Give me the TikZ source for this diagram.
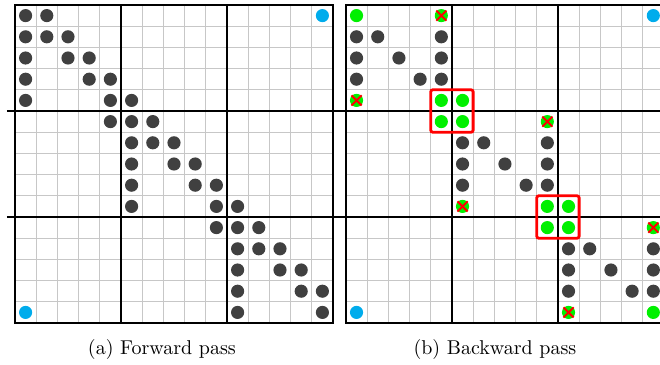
\documentclass[tikz,border=0pt]{standalone}
\usepackage{xcolor}
\usepackage{tikz}
\usetikzlibrary{positioning}

\definecolor{nzgray}{RGB}{64,64,64}
\definecolor{updgreen}{RGB}{0,240,0}
\definecolor{cornerblue}{RGB}{0,172,236}

\begin{document}
\begin{tikzpicture}[x=10.6pt, y=10.6pt,
  gridline/.style={black!22, line width=0.5pt},
  blockline/.style={black, line width=1.3pt},
  nz/.style={fill=nzgray},
  upd/.style={fill=updgreen},
  cornerpt/.style={fill=cornerblue},
  dropx/.style={red, line width=1pt},
  pivot/.style={red, line width=1.4pt, rounded corners=1pt},
  captext/.style={font=\normalsize, inner sep=0pt}
]
\useasboundingbox (-0.7075,0.236) rectangle (30.425,-16.98);

% two 15x15 patterns, 3x3 blocks
\foreach \ox in {0,15.61} {
  \begin{scope}[shift={(\ox,0)}]
    \draw[gridline, step=1] (0,0) grid (15,-15);
    \foreach \k in {5,10} {
      \draw[blockline] (\k,0) -- (\k,-15);
      \draw[blockline] (-0.38,-\k) -- (15.38,-\k);
    }
    \draw[blockline] (0,0) rectangle (15,-15);
    \fill[cornerpt] (14.5,-0.5) circle (0.31);
    \fill[cornerpt] (0.5,-14.5) circle (0.31);
  \end{scope}
}

% (a) forward
\foreach \r/\cols in {0/{0,1},1/{0,1,2},2/{0,2,3},3/{0,3,4},4/{0,4,5},
                      5/{4,5,6},6/{5,6,7},7/{5,7,8},8/{5,8,9},9/{5,9,10},
                      10/{9,10,11},11/{10,11,12},12/{10,12,13},13/{10,13,14},14/{10,14}} {
  \foreach \c in \cols {
    \fill[nz] (\c+0.5,-\r-0.5) circle (0.31);
  }
}

% (b) backward
\begin{scope}[shift={(15.61,0)}]
  \foreach \r/\cols in {1/{0,1,4},2/{0,2,4},3/{0,3,4},6/{5,6,9},7/{5,7,9},8/{5,8,9},
                        11/{10,11,14},12/{10,12,14},13/{10,13,14}} {
    \foreach \c in \cols {
      \fill[nz] (\c+0.5,-\r-0.5) circle (0.31);
    }
  }
  \foreach \r/\c in {0/0,4/4,4/5,5/4,5/5,9/9,9/10,10/9,10/10,14/14}
    \fill[upd] (\c+0.5,-\r-0.5) circle (0.31);
  \foreach \r/\c in {0/4,4/0,5/9,9/5,10/14,14/10} {
    \fill[upd] (\c+0.5,-\r-0.5) circle (0.31);
    \draw[dropx] (\c+0.26,-\r-0.26) -- (\c+0.74,-\r-0.74);
    \draw[dropx] (\c+0.26,-\r-0.74) -- (\c+0.74,-\r-0.26);
  }
  \draw[pivot] (4,-4) rectangle (6,-6);
  \draw[pivot] (9,-9) rectangle (11,-11);
\end{scope}

\node[captext] (fwdcap) at (6.93,-16.27) {(a) Forward pass};
\node[captext] (bwdcap) at (22.64,-16.27) {(b) Backward pass};
\end{tikzpicture}
\end{document}
